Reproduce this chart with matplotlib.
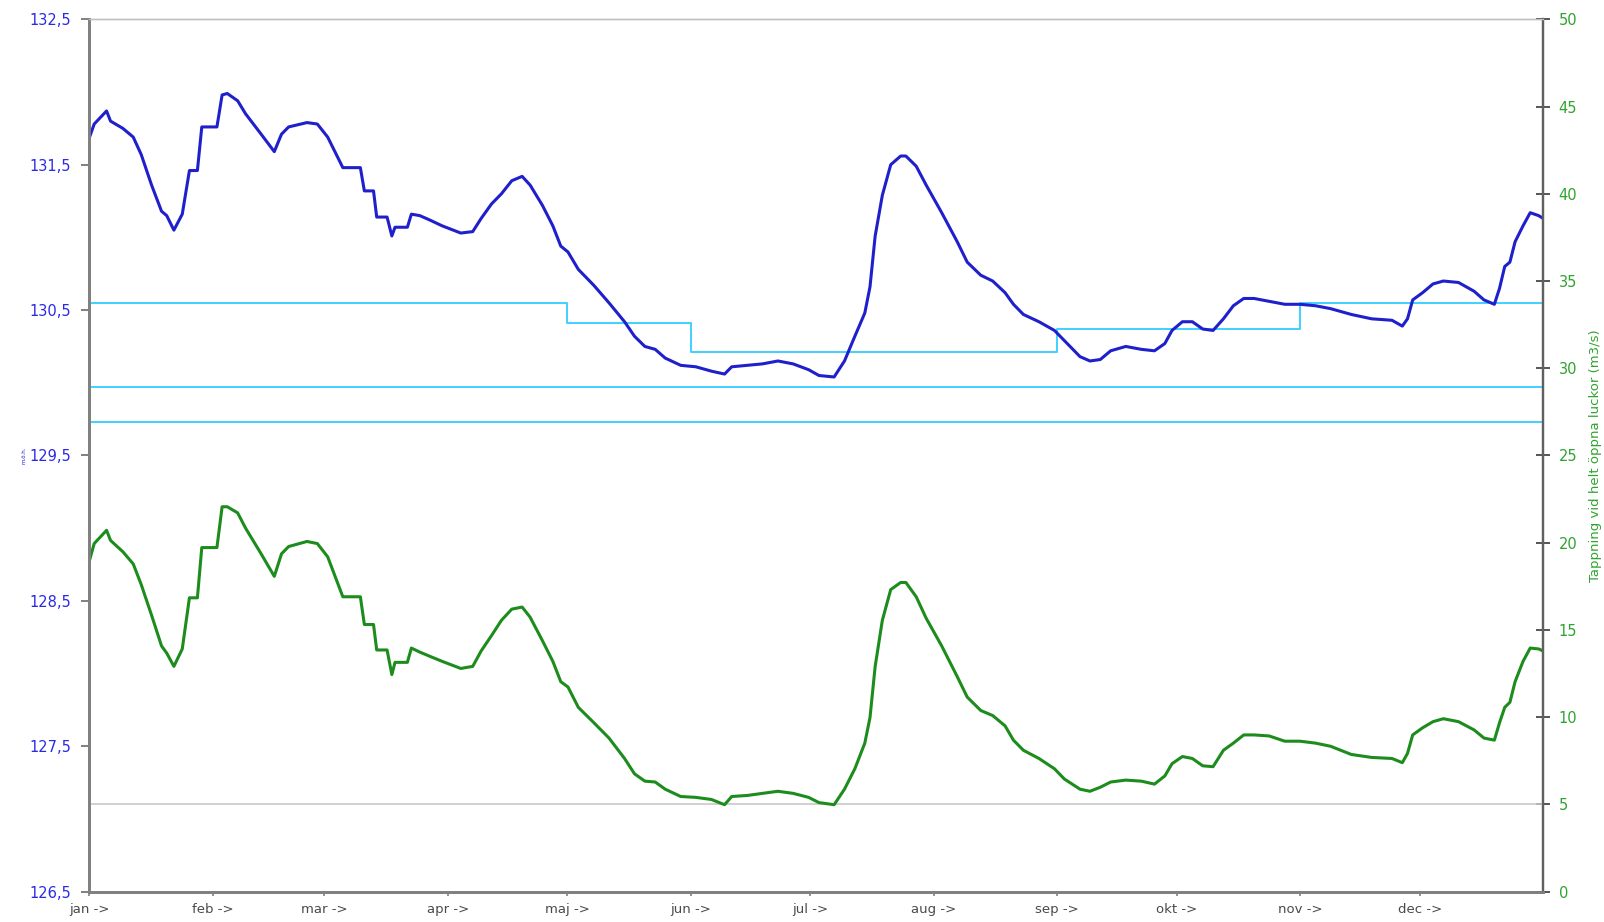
import matplotlib
matplotlib.use("Agg")
import matplotlib.pyplot as plt
from matplotlib.ticker import FixedLocator, FuncFormatter

# day of year for the sampled points
days = [0, 1.3, 4.4, 5.4, 8.5, 11.1, 13.1, 15.7, 18.2, 19.5, 21.3, 23.4, 25.2, 27.2,
        28.3, 32.1, 33.4, 34.7, 37.3, 39.3, 43.2, 46.5, 48.3, 50.1, 54.7, 57.3, 59.9,
        63.7, 68.1, 69.1, 71.4, 72.2, 74.8, 76.0, 76.8, 79.9, 80.9, 83.0, 85.5, 88.6,
        93.3, 96.3, 98.4, 101.0, 103.5, 106.1, 108.7, 110.7, 113.8, 116.4, 118.4, 120.2,
        122.8, 126.7, 130.5, 134.4, 136.9, 139.5, 142.1, 144.6, 148.5, 152.3, 156.2,
        159.5, 161.3, 165.2, 169.0, 172.9, 176.7, 180.6, 183.2, 187.0, 189.6, 192.2,
        194.7, 196.0, 197.3, 199.1, 201.2, 203.7, 205.0, 207.6, 210.1, 214.0, 217.9,
        220.4, 223.8, 226.8, 229.9, 232.0, 234.5, 238.4, 242.3, 244.8, 248.7, 251.2,
        253.8, 256.4, 260.2, 264.1, 267.4, 270.0, 271.8, 274.4, 276.9, 279.5, 282.1,
        284.7, 287.2, 289.8, 292.4, 296.2, 300.1, 303.9, 307.8, 311.6, 316.8, 321.9,
        327.0, 329.6, 330.9, 332.2, 334.7, 337.3, 339.9, 343.7, 347.6, 350.1, 352.7,
        354.0, 355.3, 356.6, 357.9, 359.9, 361.7, 363.8, 365.0]

# water level (m.ö.h.), left axis
level = [131.68, 131.78, 131.87, 131.80, 131.75, 131.69, 131.57, 131.36, 131.18, 131.15,
         131.05, 131.16, 131.46, 131.46, 131.76, 131.76, 131.98, 131.99, 131.94, 131.85,
         131.71, 131.59, 131.71, 131.76, 131.79, 131.78, 131.69, 131.48, 131.48, 131.32,
         131.32, 131.14, 131.14, 131.01, 131.07, 131.07, 131.16, 131.15, 131.12, 131.08,
         131.03, 131.04, 131.13, 131.23, 131.30, 131.39, 131.42, 131.36, 131.22, 131.08,
         130.94, 130.90, 130.78, 130.67, 130.55, 130.42, 130.32, 130.25, 130.23, 130.17,
         130.12, 130.11, 130.08, 130.06, 130.11, 130.12, 130.13, 130.15, 130.13, 130.09,
         130.05, 130.04, 130.15, 130.32, 130.48, 130.66, 131.01, 131.29, 131.50, 131.56,
         131.56, 131.49, 131.36, 131.17, 130.97, 130.83, 130.74, 130.70, 130.62, 130.54,
         130.47, 130.42, 130.36, 130.29, 130.18, 130.15, 130.16, 130.22, 130.25, 130.23,
         130.22, 130.27, 130.36, 130.42, 130.42, 130.37, 130.36, 130.44, 130.53, 130.58,
         130.58, 130.56, 130.54, 130.54, 130.53, 130.51, 130.47, 130.44, 130.43, 130.39,
         130.44, 130.57, 130.62, 130.68, 130.70, 130.69, 130.63, 130.57, 130.54, 130.65,
         130.80, 130.83, 130.97, 131.08, 131.17, 131.15, 131.13]

# discharge with fully open gates (m3/s), right axis
flow = [18.89, 19.95, 20.71, 20.13, 19.48, 18.78, 17.60, 15.84, 14.08, 13.67, 12.91,
        13.91, 16.84, 16.84, 19.72, 19.72, 22.06, 22.06, 21.71, 20.83, 19.36, 18.07,
        19.36, 19.78, 20.07, 19.95, 19.19, 16.90, 16.90, 15.31, 15.31, 13.85, 13.85,
        12.44, 13.14, 13.14, 13.96, 13.73, 13.49, 13.20, 12.79, 12.91, 13.79, 14.67,
        15.55, 16.19, 16.31, 15.73, 14.38, 13.20, 12.03, 11.73, 10.56, 9.68, 8.80, 7.63,
        6.75, 6.33, 6.28, 5.87, 5.45, 5.40, 5.28, 4.98, 5.45, 5.51, 5.63, 5.75, 5.63,
        5.40, 5.10, 4.98, 5.87, 7.04, 8.51, 9.97, 12.91, 15.55, 17.31, 17.72, 17.72,
        16.90, 15.67, 14.08, 12.32, 11.15, 10.38, 10.09, 9.50, 8.68, 8.10, 7.63, 7.04,
        6.45, 5.87, 5.75, 5.98, 6.28, 6.39, 6.33, 6.16, 6.63, 7.33, 7.74, 7.63, 7.21,
        7.16, 8.10, 8.51, 8.98, 8.98, 8.92, 8.62, 8.62, 8.51, 8.33, 7.86, 7.69, 7.63,
        7.39, 7.92, 8.98, 9.39, 9.74, 9.91, 9.74, 9.27, 8.80, 8.68, 9.68, 10.56, 10.85,
        12.03, 13.20, 13.96, 13.91, 13.79]

# target level steps (left axis)
step_days = [0, 120, 151, 243, 304, 365]
step_levels = [130.55, 130.41, 130.21, 130.37, 130.55, 130.55]
limit_levels = [129.97, 129.73]
min_flow = 5

month_days = [0, 31, 59, 90, 120, 151, 181, 212, 243, 273, 304, 334]
month_labels = ["jan ->", "feb ->", "mar ->", "apr ->", "maj ->", "jun ->",
                "jul ->", "aug ->", "sep ->", "okt ->", "nov ->", "dec ->"]
left_ticks = [126.5, 127.5, 128.5, 129.5, 130.5, 131.5, 132.5]
right_ticks = list(range(0, 51, 5))

BLUE = "#1f1fcc"
GREEN = "#1c8c1c"
CYAN = "#3fd0ff"
SPINE = "#808080"

fig = plt.figure(figsize=(16.04, 9.22), dpi=100)
ax = fig.add_axes([0.0555, 0.033, 0.9067, 0.946])
ax2 = ax.twinx()

ax.step(step_days, step_levels, where="post", color=CYAN, lw=1.4)
for lv in limit_levels:
    ax.axhline(lv, color=CYAN, lw=1.4)
ax2.axhline(min_flow, color="#c8c8c8", lw=1.2)

ax.plot(days, level, color=BLUE, lw=2.2, zorder=5)
ax2.plot(days, flow, color=GREEN, lw=2.2)

ax.set_xlim(0, 365)
ax.set_ylim(126.5, 132.5)
ax2.set_ylim(0, 50)

ax.xaxis.set_major_locator(FixedLocator(month_days))
ax.set_xticklabels(month_labels, fontsize=9.5, color="#4a4a4a")
ax.tick_params(axis="x", length=3, width=1.2, color=SPINE, pad=5)

ax.yaxis.set_major_locator(FixedLocator(left_ticks))
ax.yaxis.set_major_formatter(FuncFormatter(lambda v, p: f"{v:.1f}".replace(".", ",")))
ax.tick_params(axis="y", length=6, width=1.4, color=SPINE, labelcolor="#2a2ae6",
               labelsize=10.5, pad=7)

ax2.yaxis.set_major_locator(FixedLocator(right_ticks))
ax2.tick_params(axis="y", direction="inout", length=10, width=1.4, color="#555555",
                labelcolor="#2fa32f", labelsize=10.5, pad=6)

for a in (ax, ax2):
    a.spines["left"].set_color(SPINE)
    a.spines["left"].set_linewidth(2)
    a.spines["bottom"].set_color(SPINE)
    a.spines["bottom"].set_linewidth(2)
    a.spines["right"].set_color("#606060")
    a.spines["right"].set_linewidth(1.6)
    a.spines["top"].set_color("#c0c0c0")
    a.spines["top"].set_linewidth(1)

ax.set_ylabel("m.ö.h.", fontsize=4, color=BLUE, labelpad=2)
ax2.set_ylabel("Tappning vid helt öppna luckor (m3/s)", fontsize=9.5, color="#2fa32f",
               labelpad=8)

fig.savefig("out.png", dpi=100)
